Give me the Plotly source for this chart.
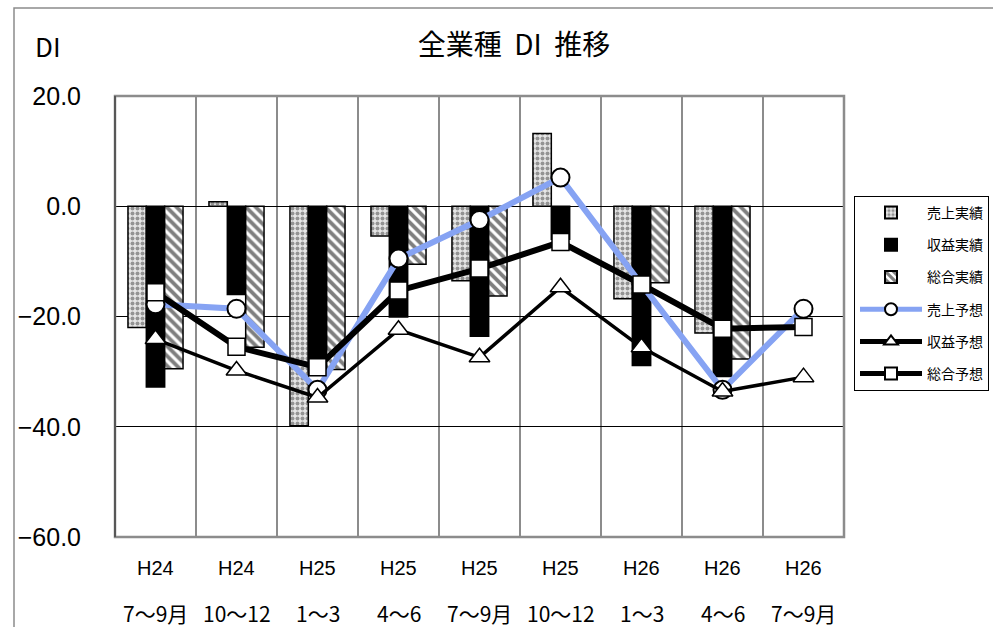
import plotly.graph_objects as go

# 調査期間（年度・四半期）
years = ["H24", "H24", "H25", "H25", "H25", "H25", "H26", "H26", "H26"]
months = ["7〜9月", "10〜12", "1〜3", "4〜6", "7〜9月", "10〜12", "1〜3", "4〜6", "7〜9月"]
periods = [f"{y} {m}" for y, m in zip(years, months)]

# 実績（棒グラフ）
sales_actual = [-22.0, 0.8, -39.8, -5.4, -13.5, 13.2, -16.8, -23.0, None]
profit_actual = [-32.8, -16.0, -30.0, -20.1, -23.6, -6.0, -28.9, -30.9, None]
overall_actual = [-29.5, -25.6, -29.6, -10.5, -16.3, None, -13.9, -27.7, None]

# 予想（折れ線グラフ）
sales_forecast = [-17.8, -18.6, -33.3, -9.5, -2.5, 5.2, -14.2, -33.3, -18.6]
profit_forecast = [-24.1, -29.8, -34.7, -22.4, -27.4, -14.7, -25.6, -33.6, -31.0]
overall_forecast = [-15.6, -25.5, -29.2, -15.3, -11.3, -6.5, -14.2, -22.2, -21.9]

y_ticks = [20, 0, -20, -40, -60]

W, H = 993, 627
L, R, T, B = 115, 149, 96, 90
PW, PH = W - L - R, H - T - B

JP = "Noto Sans CJK JP"
LAT = "Liberation Sans"


def px_x(x):
    return (x - L) / PW


def px_y(y):
    return (H - B - y) / PH


fig = go.Figure()

fig.add_trace(go.Bar(
    x=periods, y=sales_actual, name="売上実績", legendgroup="a",
    marker=dict(color="#e6e6e6", line=dict(color="black", width=1.5),
                pattern=dict(shape=".", fgcolor="#404040", bgcolor="#e6e6e6",
                             size=5, solidity=0.5)),
))
fig.add_trace(go.Bar(
    x=periods, y=profit_actual, name="収益実績", legendgroup="b",
    marker=dict(color="black", line=dict(color="black", width=1.5)),
))
fig.add_trace(go.Bar(
    x=periods, y=overall_actual, name="総合実績", legendgroup="c",
    marker=dict(color="white", line=dict(color="black", width=1.5),
                pattern=dict(shape="\\", fgcolor="black", bgcolor="white",
                             size=7, solidity=0.55)),
))

fig.add_trace(go.Scatter(
    x=periods, y=sales_forecast, name="売上予想", legendgroup="d",
    mode="lines+markers",
    line=dict(color="#86a3f3", width=6),
    marker=dict(symbol="circle", size=18, color="white",
                line=dict(color="black", width=2)),
))
fig.add_trace(go.Scatter(
    x=periods, y=profit_forecast, name="収益予想", legendgroup="e",
    mode="lines+markers",
    line=dict(color="black", width=3.5),
    marker=dict(symbol="triangle-up", size=18, color="white",
                line=dict(color="black", width=1.5)),
))
fig.add_trace(go.Scatter(
    x=periods, y=overall_forecast, name="総合予想", legendgroup="f",
    mode="lines+markers",
    line=dict(color="black", width=6),
    marker=dict(symbol="square", size=17, color="white",
                line=dict(color="black", width=1.5)),
))

annotations = []
for p, yr, mo in zip(periods, years, months):
    annotations.append(dict(x=p, xref="x", y=0, yref="paper", yshift=-31,
                            text=yr, showarrow=False, yanchor="middle",
                            font=dict(family=LAT, size=20, color="black")))
    annotations.append(dict(x=p, xref="x", y=0, yref="paper", yshift=-76,
                            text=mo, showarrow=False, yanchor="middle",
                            font=dict(family=JP, size=21, color="black")))
annotations.append(dict(x=px_x(48), xref="paper", y=px_y(45), yref="paper",
                        text="DI", showarrow=False, xanchor="center", yanchor="middle",
                        font=dict(family=JP, size=26, color="black")))

fig.update_layout(
    width=W, height=H,
    margin=dict(l=L, r=R, t=T, b=B, autoexpand=False),
    paper_bgcolor="white", plot_bgcolor="white",
    barmode="group", bargap=0.32, bargroupgap=0,
    title=dict(text="全業種&nbsp;&nbsp;DI&nbsp;&nbsp;推移", x=514 / W, xref="container",
               xanchor="center", y=1 - 45 / H, yref="container", yanchor="middle",
               font=dict(family=JP, size=28, color="black")),
    showlegend=True,
    legend=dict(x=px_x(854), y=px_y(196), xanchor="left", yanchor="top",
                bgcolor="white", bordercolor="black", borderwidth=1,
                font=dict(family=JP, size=14, color="black"),
                tracegroupgap=11, itemsizing="constant", itemwidth=62),
    annotations=annotations,
    shapes=[
        dict(type="rect", xref="paper", yref="paper", x0=0, x1=1, y0=0, y1=1,
             line=dict(color="#8c8c8c", width=2.5), layer="above"),
        dict(type="line", xref="paper", yref="paper", x0=0, x1=0, y0=0, y1=1,
             line=dict(color="#222222", width=1), layer="above"),
        dict(type="rect", xref="paper", yref="paper",
             x0=px_x(14), x1=px_x(W + 10), y0=px_y(H + 10), y1=px_y(8),
             line=dict(color="#8c8c8c", width=1.5), layer="above"),
    ],
)

fig.update_xaxes(
    type="category", categoryorder="array", categoryarray=periods,
    range=[-0.5, len(periods) - 0.5],
    tickson="boundaries", showgrid=True, gridcolor="#8c8c8c", gridwidth=1.5,
    showticklabels=False, ticks="", showline=False, zeroline=False,
)
fig.update_yaxes(
    range=[-60, 20], tickvals=y_ticks, tickformat=".1f",
    showgrid=True, gridcolor="black", gridwidth=1,
    zeroline=True, zerolinecolor="black", zerolinewidth=1,
    showline=False, ticks="", ticklabelstandoff=33,
    tickfont=dict(family=LAT, size=25, color="black"),
)

fig.write_html("out.html")
